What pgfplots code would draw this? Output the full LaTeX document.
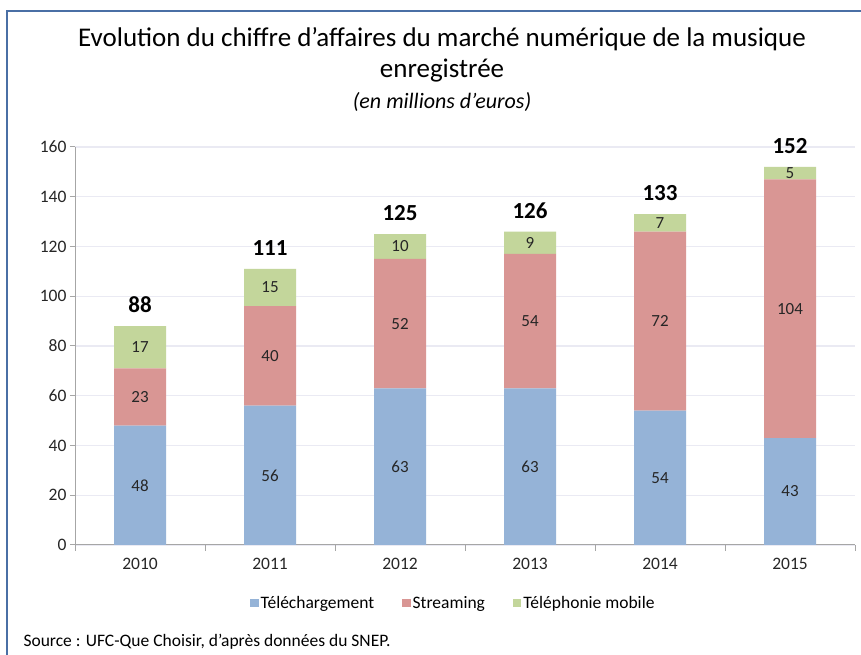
\documentclass[border=0pt]{standalone}
\usepackage{pgfplots}
\pgfplotsset{compat=1.18}
\usepackage{pgfplotstable}
\usepackage{fontspec}
\setmainfont{Carlito}
\definecolor{cTel}{HTML}{95B3D7}
\definecolor{cStr}{HTML}{D99694}
\definecolor{cMob}{HTML}{C3D69B}
\definecolor{gridc}{HTML}{EAEAF3}
\definecolor{axc}{HTML}{A6A6A6}
\definecolor{framec}{HTML}{4A6FA5}
\definecolor{txt}{HTML}{262626}
\pgfplotstableread{
x tel str mob tot
0 48 23 17 88
1 56 40 15 111
2 63 52 10 125
3 63 54 9 126
4 54 72 7 133
5 43 104 5 152
}\data
\pgfplotsset{
  geom/.style={at={(75pt,110pt)}, anchor=south west,
  scale only axis, width=780pt, height=398pt,
  xmin=-0.5, xmax=5.5, ymin=0, ymax=160, enlargelimits=false, clip=false},
}
\begin{document}
\begin{tikzpicture}
\path[use as bounding box] (0pt,0pt) rectangle (861pt,655pt);
\fill[white] (0pt,0pt) rectangle (861pt,655pt);
\draw[framec, line width=2.5pt] (7pt,0pt) -- (7pt,644pt) -- (861pt,644pt);
\node[font=\fontsize{27}{30}\selectfont, text=black] at (442pt,616pt) {Evolution du chiffre d’affaires du marché numérique de la musique};
\node[font=\fontsize{27}{30}\selectfont, text=black] at (442pt,584pt) {enregistrée};
\node[font=\fontsize{22}{26}\selectfont\itshape, text=black] at (442pt,553pt) {(en millions d’euros)};
\node[font=\fontsize{17.5}{20}\selectfont, anchor=west, text=black] at (20pt,13pt) {Source : UFC-Que Choisir, d’après données du SNEP.};
\begin{axis}[
  geom,
  ybar stacked, bar width=52pt,
  xtick={0,...,5}, xticklabels={2010,2011,2012,2013,2014,2015},
  minor xtick={-0.5,0.5,...,5.5},
  ytick={0,20,...,160},
  axis x line*=bottom, axis y line*=left,
  axis line style={axc, line width=1pt},
  tick align=outside,
  major tick length=5pt, minor tick length=6pt,
  major x tick style={draw=none},
  minor x tick style={axc, line width=1pt},
  major y tick style={axc, line width=1pt},
  ymajorgrids, grid style={gridc, line width=1.2pt},
  tick label style={font=\fontsize{17.5}{20}\selectfont, text=txt},
  xticklabel style={yshift=-5pt},
  /pgf/number format/assume math mode=true,
  legend style={at={(0.485,-0.146)}, anchor=center, draw=none, fill=none,
    legend columns=3, font=\fontsize{17.5}{20}\selectfont, inner sep=0pt,
    /tikz/every even column/.append style={column sep=26pt}},
  legend image code/.code={\fill[#1] (1pt,-4pt) rectangle (9.5pt,4.5pt);},
]
\addplot[fill=cTel, draw=none] table[x=x, y=tel]{\data};
\addlegendentry{Téléchargement}
\addplot[fill=cStr, draw=none] table[x=x, y=str]{\data};
\addlegendentry{Streaming}
\addplot[fill=cMob, draw=none] table[x=x, y=mob]{\data};
\addlegendentry{Téléphonie mobile}
\end{axis}
\begin{axis}[
  geom, hide axis,
  /pgf/number format/assume math mode=true,
  nodes near coords, point meta=explicit,
  every node near coord/.append style={font=\fontsize{17}{20}\selectfont, text=txt, anchor=center, inner sep=0pt},
]
\addplot[only marks, mark=none] table[x=x, y expr=\thisrow{tel}/2, meta=tel]{\data};
\addplot[only marks, mark=none] table[x=x, y expr=\thisrow{tel}+\thisrow{str}/2, meta=str]{\data};
\addplot[only marks, mark=none] table[x=x, y expr=\thisrow{tel}+\thisrow{str}+\thisrow{mob}/2, meta=mob]{\data};
\addplot[only marks, mark=none, every node near coord/.append style={anchor=south, yshift=13pt, font=\fontsize{23}{26}\selectfont\bfseries, text=black}] table[x=x, y=tot, meta=tot]{\data};
\end{axis}
\end{tikzpicture}
\end{document}
